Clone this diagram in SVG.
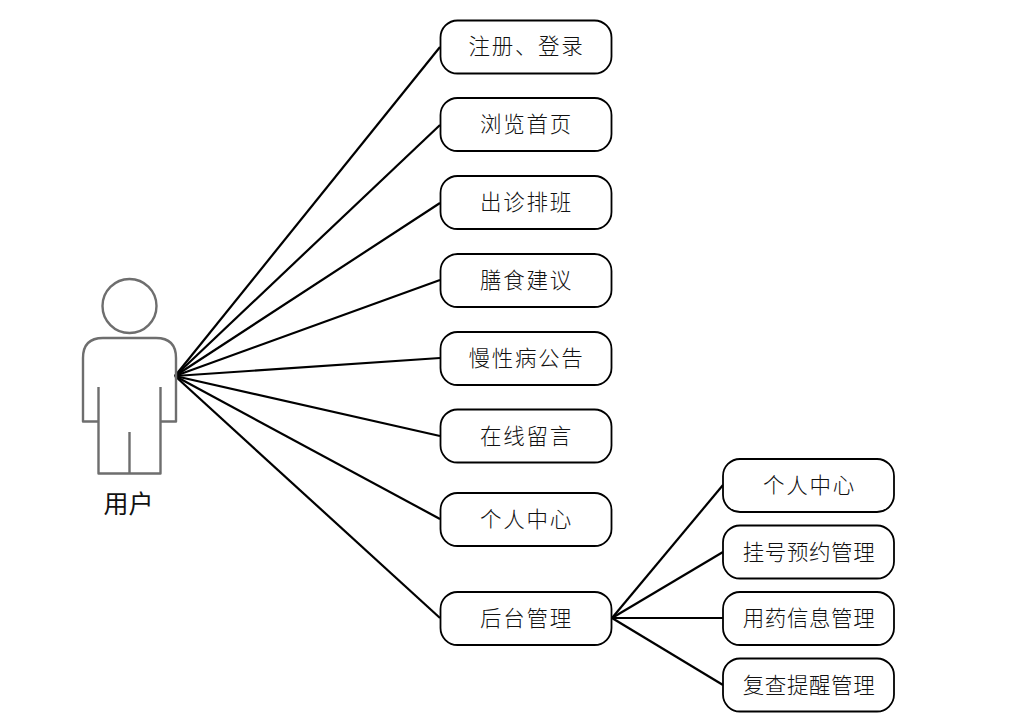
<svg xmlns="http://www.w3.org/2000/svg" width="1033" height="725" viewBox="0 0 1033 725">
<style>
.box{fill:#fff;stroke:#000;stroke-width:1.8}
.c{fill:none;stroke:#000;stroke-width:2.2}
.a{fill:none;stroke:#6e6e6e;stroke-width:2.4;stroke-linejoin:round}
text{font-family:"Noto Sans CJK SC","Noto Sans",sans-serif;font-weight:300;fill:#111;text-anchor:middle;dominant-baseline:central}
.t{font-size:21.500px;letter-spacing:1.700px}
.s{font-size:21.500px;letter-spacing:.600px}
</style>
<rect width="1033" height="725" fill="#fff"/>
<g id="connectors">
<line class="c" x1="175" y1="376" x2="440" y2="47"/>
<line class="c" x1="175" y1="376" x2="440" y2="125"/>
<line class="c" x1="175" y1="376" x2="440" y2="203"/>
<line class="c" x1="175" y1="376" x2="440" y2="280"/>
<line class="c" x1="175" y1="376" x2="440" y2="358"/>
<line class="c" x1="175" y1="376" x2="440" y2="436"/>
<line class="c" x1="175" y1="376" x2="440" y2="519"/>
<line class="c" x1="175" y1="376" x2="440" y2="618"/>
<line class="c" x1="612" y1="618" x2="723" y2="485"/>
<line class="c" x1="612" y1="618" x2="723" y2="552"/>
<line class="c" x1="612" y1="618" x2="723" y2="618"/>
<line class="c" x1="612" y1="618" x2="723" y2="685"/>
</g>
<g id="actor">
<circle class="a" cx="129.500" cy="306" r="27"/>
<path class="a" d="M98.500 387V421.500H83V358Q83 338 103 338H156Q176 338 176 358V421.500H160.500V387M160.500 421.500V473.500H98.500V421.500M129.500 432V473.500"/>
<text x="128.500" y="502" style="font-size:25px;font-weight:400">用户</text>
</g>
<g id="n1"><rect class="box" x="440.500" y="20.500" width="171" height="53" rx="17"/><text class="t" x="526.500" y="44">注册、登录</text></g>
<g id="n2"><rect class="box" x="440.500" y="98" width="171" height="53" rx="17"/><text class="t" x="526.500" y="122">浏览首页</text></g>
<g id="n3"><rect class="box" x="440.500" y="176" width="171" height="53" rx="17"/><text class="t" x="526.500" y="200">出诊排班</text></g>
<g id="n4"><rect class="box" x="440.500" y="254" width="171" height="53" rx="17"/><text class="t" x="526.500" y="278">膳食建议</text></g>
<g id="n5"><rect class="box" x="440.500" y="332" width="171" height="53" rx="17"/><text class="t" x="526.500" y="356">慢性病公告</text></g>
<g id="n6"><rect class="box" x="440.500" y="409.500" width="171" height="53" rx="17"/><text class="t" x="526.500" y="434">在线留言</text></g>
<g id="n7"><rect class="box" x="440.500" y="493" width="171" height="53" rx="17"/><text class="t" x="526.500" y="517">个人中心</text></g>
<g id="n8"><rect class="box" x="440.500" y="592" width="171" height="53" rx="17"/><text class="t" x="526.500" y="616">后台管理</text></g>
<g id="n9"><rect class="box" x="723" y="459" width="171" height="53" rx="17"/><text class="t" x="809.500" y="483">个人中心</text></g>
<g id="n10"><rect class="box" x="723" y="525.500" width="171" height="53" rx="17"/><text class="s" x="809" y="550">挂号预约管理</text></g>
<g id="n11"><rect class="box" x="723" y="592" width="171" height="53" rx="17"/><text class="s" x="809" y="616">用药信息管理</text></g>
<g id="n12"><rect class="box" x="723" y="658.500" width="171" height="53" rx="17"/><text class="s" x="809" y="683">复查提醒管理</text></g>
</svg>
